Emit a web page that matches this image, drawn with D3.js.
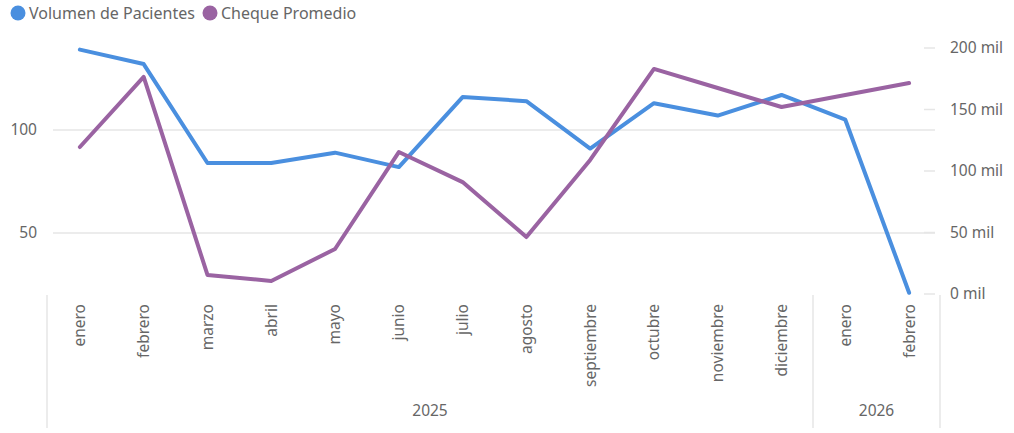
<!DOCTYPE html>
<html>
<head>
<meta charset="utf-8">
<script src="https://cdn.jsdelivr.net/npm/d3@7"></script>
<style>
  body { margin: 0; background: #fff; }
  svg { font-family: "Segoe UI", "Noto Sans", sans-serif; }
  .tick-label { fill: #666; font-size: 15.5px; }
</style>
</head>
<body>
<div id="chart"></div>
<script>
// months shown on the x axis, grouped by year
var months = ["enero", "febrero", "marzo", "abril", "mayo", "junio", "julio", "agosto",
    "septiembre", "octubre", "noviembre", "diciembre", "enero", "febrero"];
var years = ["2025", "2025", "2025", "2025", "2025", "2025", "2025", "2025",
    "2025", "2025", "2025", "2025", "2026", "2026"];

// Volumen de Pacientes (left axis)
var volumen = [139, 132, 84, 84, 89, 82, 116, 114, 91, 113, 107, 117, 105, 21];
// Cheque Promedio (right axis)
var cheque = [119500, 176500, 15500, 10600, 36600, 115400, 91000, 46300,
    109000, 183000, 167500, 152000, 161800, 171500];

var leftTicks = [50, 100];
var rightTicks = [0, 50000, 100000, 150000, 200000];

var blue = "#4a8fdf", purple = "#9a63a2";

var width = 1014, height = 433;
var plotTop = 48, plotBottom = 294;

var svg = d3.select("#chart").append("svg")
    .attr("width", width)
    .attr("height", height);

var x = d3.scaleBand()
    .domain(d3.range(months.length))
    .range([48, 941]);

var yLeft = d3.scaleLinear()
    .domain([20.4, 139.8])
    .range([plotBottom, plotTop]);

var yRight = d3.scaleLinear()
    .domain([0, 200000])
    .range([plotBottom, plotTop]);

// gridlines from left ticks
svg.append("g").selectAll("line")
    .data(leftTicks)
    .enter().append("line")
    .attr("x1", 53).attr("x2", 935)
    .attr("y1", function(d) { return yLeft(d); })
    .attr("y2", function(d) { return yLeft(d); })
    .attr("stroke", "#e6e6e6")
    .attr("stroke-width", 1.5);

// left tick labels
svg.append("g").selectAll("text")
    .data(leftTicks)
    .enter().append("text")
    .attr("class", "tick-label")
    .attr("x", 37)
    .attr("y", function(d) { return yLeft(d); })
    .attr("dy", "0.35em")
    .attr("text-anchor", "end")
    .text(function(d) { return d; });

// right ticks + labels
var rt = svg.append("g").selectAll("g")
    .data(rightTicks)
    .enter().append("g")
    .attr("transform", function(d) { return "translate(0," + yRight(d) + ")"; });
rt.append("line")
    .attr("x1", 924).attr("x2", 935)
    .attr("stroke", "#e6e6e6")
    .attr("stroke-width", 1.5);
rt.append("text")
    .attr("class", "tick-label")
    .attr("x", 950)
    .attr("dy", "0.35em")
    .text(function(d) { return (d / 1000) + " mil"; });

// x axis: month labels
svg.append("g").selectAll("text")
    .data(months)
    .enter().append("text")
    .attr("class", "tick-label")
    .attr("transform", function(d, i) {
        return "translate(" + (x(i) + x.bandwidth() / 2) + ",304) rotate(-90)";
    })
    .attr("dy", "0.35em")
    .attr("text-anchor", "end")
    .text(function(d) { return d; });

// year groups
var yearGroups = d3.groups(d3.range(months.length), function(i) { return years[i]; });
var sepX = [47];
yearGroups.forEach(function(g) {
    var last = g[1][g[1].length - 1];
    sepX.push(Math.round(x(last) + x.bandwidth()));
});
sepX[sepX.length - 1] = 940;

svg.append("g").selectAll("line")
    .data(sepX)
    .enter().append("line")
    .attr("x1", function(d) { return d; })
    .attr("x2", function(d) { return d; })
    .attr("y1", 295).attr("y2", 428)
    .attr("stroke", "#e6e6e6")
    .attr("stroke-width", 1.5);

svg.append("g").selectAll("text")
    .data(yearGroups)
    .enter().append("text")
    .attr("class", "tick-label")
    .attr("x", function(d, k) { return (sepX[k] + sepX[k + 1]) / 2; })
    .attr("y", 411)
    .attr("dy", "0.35em")
    .attr("text-anchor", "middle")
    .text(function(d) { return d[0]; });

// lines
var lineLeft = d3.line()
    .x(function(d, i) { return x(i) + x.bandwidth() / 2; })
    .y(function(d) { return yLeft(d); });
var lineRight = d3.line()
    .x(function(d, i) { return x(i) + x.bandwidth() / 2; })
    .y(function(d) { return yRight(d); });

svg.append("path")
    .datum(volumen)
    .attr("fill", "none")
    .attr("stroke", blue)
    .attr("stroke-width", 4)
    .attr("stroke-linejoin", "round")
    .attr("stroke-linecap", "round")
    .attr("d", lineLeft);

svg.append("path")
    .datum(cheque)
    .attr("fill", "none")
    .attr("stroke", purple)
    .attr("stroke-width", 4)
    .attr("stroke-linejoin", "round")
    .attr("stroke-linecap", "round")
    .attr("d", lineRight);

// legend
var legendItems = [
    { name: "Volumen de Pacientes", color: blue, x: 18 },
    { name: "Cheque Promedio", color: purple, x: 210 }
];
var lg = svg.append("g").selectAll("g")
    .data(legendItems)
    .enter().append("g")
    .attr("transform", function(d) { return "translate(" + d.x + ",13)"; });
lg.append("circle")
    .attr("r", 7.5)
    .attr("fill", function(d) { return d.color; });
lg.append("text")
    .attr("x", 11)
    .attr("dy", "0.35em")
    .attr("fill", "#666")
    .style("font-size", "16px")
    .text(function(d) { return d.name; });
</script>
</body>
</html>
